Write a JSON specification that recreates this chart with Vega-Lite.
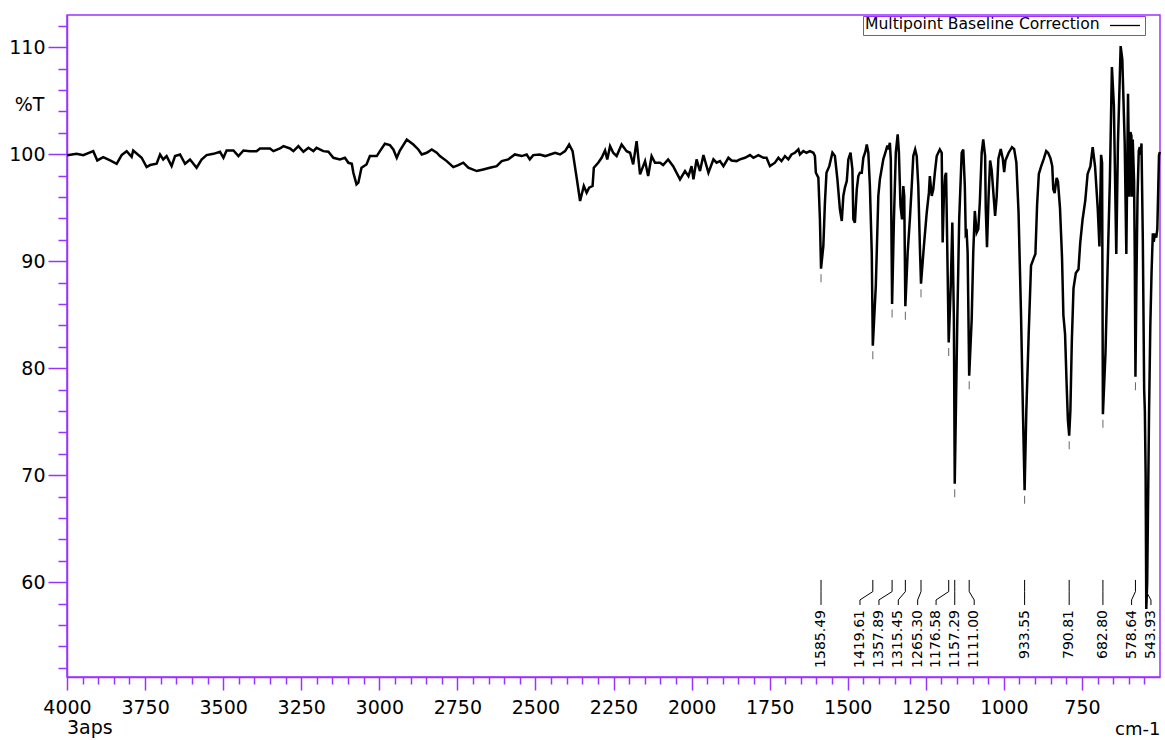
{
  "$schema": "https://vega.github.io/schema/vega-lite/v6.json",
  "width": 1093,
  "height": 662,
  "autosize": {"type": "none"},
  "padding": {"left": 67, "top": 15, "right": 5, "bottom": 63},
  "background": "white",
  "view": {"stroke": "#9933ff", "strokeWidth": 1.5},
  "title": {"text": "3aps", "orient": "bottom", "anchor": "start", "frame": "group", "fontSize": 19, "fontWeight": "normal", "font": "DejaVu Sans", "color": "black", "offset": -19},
  "config": {
    "font": "DejaVu Sans",
    "axisX": {
      "format": "d",
      "labelExpr": "datum.value % 250 === 0 ? datum.label : ''",
      "labelOverlap": false, "labelFlush": false,
      "labelFontSize": 19, "labelFont": "DejaVu Sans", "labelColor": "black", "labelPadding": 8,
      "domainColor": "#9933ff", "domainWidth": 1.5, "tickColor": "#9933ff", "tickWidth": 1.5,
      "grid": false,
      "titleFontSize": 18, "titleFont": "DejaVu Sans", "titleFontWeight": "normal", "titleColor": "black",
      "titleX": 1093, "titleY": 57, "titleAlign": "right", "titleBaseline": "alphabetic", "titleAngle": 0
    },
    "axisY": {
      "labelExpr": "datum.value % 10 === 0 ? datum.label : ''",
      "labelOverlap": false, "labelFlush": false,
      "labelFontSize": 19, "labelFont": "DejaVu Sans", "labelColor": "black", "labelPadding": 3,
      "labelBaseline": "middle",
      "domainColor": "#9933ff", "domainWidth": 1.5, "tickColor": "#9933ff", "tickWidth": 1.5,
      "grid": false,
      "titleFontSize": 19, "titleFont": "DejaVu Sans", "titleFontWeight": "normal", "titleColor": "black",
      "titleX": -38, "titleY": 89, "titleAlign": "center", "titleBaseline": "middle", "titleAngle": 0
    }
  },
  "datasets": {
    "spectrum": [
      {"w": 3999, "t": 99.9}, {"w": 3969, "t": 100.03}, {"w": 3948, "t": 99.91}, {"w": 3916, "t": 100.28}, {"w": 3903, "t": 99.41},
      {"w": 3884, "t": 99.72}, {"w": 3862, "t": 99.41}, {"w": 3841, "t": 99.1}, {"w": 3825, "t": 99.91}, {"w": 3809, "t": 100.28},
      {"w": 3793, "t": 99.75}, {"w": 3788, "t": 100.34}, {"w": 3761, "t": 99.66}, {"w": 3745, "t": 98.79}, {"w": 3734, "t": 98.98},
      {"w": 3713, "t": 99.1}, {"w": 3702, "t": 99.97}, {"w": 3692, "t": 99.5}, {"w": 3681, "t": 99.82}, {"w": 3665, "t": 98.88},
      {"w": 3654, "t": 99.82}, {"w": 3638, "t": 99.97}, {"w": 3622, "t": 99.1}, {"w": 3606, "t": 99.5}, {"w": 3585, "t": 98.73},
      {"w": 3569, "t": 99.5}, {"w": 3553, "t": 99.91}, {"w": 3531, "t": 100.03}, {"w": 3510, "t": 100.22}, {"w": 3499, "t": 99.66},
      {"w": 3489, "t": 100.34}, {"w": 3467, "t": 100.34}, {"w": 3451, "t": 99.82}, {"w": 3435, "t": 100.34}, {"w": 3414, "t": 100.28},
      {"w": 3393, "t": 100.28}, {"w": 3382, "t": 100.53}, {"w": 3350, "t": 100.53}, {"w": 3339, "t": 100.28}, {"w": 3318, "t": 100.53},
      {"w": 3307, "t": 100.75}, {"w": 3286, "t": 100.53}, {"w": 3275, "t": 100.28}, {"w": 3259, "t": 100.75}, {"w": 3243, "t": 100.22},
      {"w": 3227, "t": 100.59}, {"w": 3211, "t": 100.28}, {"w": 3201, "t": 100.59}, {"w": 3179, "t": 100.28}, {"w": 3163, "t": 100.22},
      {"w": 3147, "t": 99.66}, {"w": 3126, "t": 99.51}, {"w": 3110, "t": 99.66}, {"w": 3099, "t": 99.19}, {"w": 3088, "t": 99.1},
      {"w": 3083, "t": 98.26}, {"w": 3073, "t": 97.17}, {"w": 3067, "t": 97.33}, {"w": 3057, "t": 98.73}, {"w": 3041, "t": 99.04},
      {"w": 3030, "t": 99.82}, {"w": 3008, "t": 99.82}, {"w": 2998, "t": 100.28}, {"w": 2982, "t": 100.97}, {"w": 2966, "t": 100.84},
      {"w": 2955, "t": 100.44}, {"w": 2944, "t": 99.66}, {"w": 2934, "t": 100.34}, {"w": 2912, "t": 101.37}, {"w": 2891, "t": 100.9},
      {"w": 2875, "t": 100.44}, {"w": 2864, "t": 99.97}, {"w": 2848, "t": 100.13}, {"w": 2832, "t": 100.44}, {"w": 2816, "t": 100.13},
      {"w": 2806, "t": 99.82}, {"w": 2784, "t": 99.35}, {"w": 2763, "t": 98.79}, {"w": 2747, "t": 98.98}, {"w": 2731, "t": 99.2},
      {"w": 2715, "t": 98.73}, {"w": 2688, "t": 98.42}, {"w": 2667, "t": 98.57}, {"w": 2646, "t": 98.73}, {"w": 2624, "t": 98.88},
      {"w": 2608, "t": 99.35}, {"w": 2587, "t": 99.51}, {"w": 2566, "t": 99.97}, {"w": 2544, "t": 99.82}, {"w": 2528, "t": 99.97},
      {"w": 2518, "t": 99.51}, {"w": 2507, "t": 99.91}, {"w": 2486, "t": 99.97}, {"w": 2469, "t": 99.82}, {"w": 2453, "t": 99.97},
      {"w": 2437, "t": 100.13}, {"w": 2421, "t": 99.97}, {"w": 2405, "t": 100.28}, {"w": 2392, "t": 100.9}, {"w": 2381, "t": 100.28},
      {"w": 2368, "t": 97.8}, {"w": 2357, "t": 95.62}, {"w": 2345, "t": 97.02}, {"w": 2336, "t": 96.4}, {"w": 2328, "t": 96.87},
      {"w": 2317, "t": 97.02}, {"w": 2313, "t": 98.73}, {"w": 2299, "t": 99.2}, {"w": 2288, "t": 99.66}, {"w": 2277, "t": 100.34},
      {"w": 2270, "t": 99.51}, {"w": 2261, "t": 100.75}, {"w": 2251, "t": 100.13}, {"w": 2240, "t": 99.82}, {"w": 2224, "t": 100.9},
      {"w": 2208, "t": 100.28}, {"w": 2197, "t": 100.13}, {"w": 2187, "t": 99.04}, {"w": 2176, "t": 101.21}, {"w": 2165, "t": 98.11},
      {"w": 2149, "t": 99.35}, {"w": 2139, "t": 97.95}, {"w": 2128, "t": 99.82}, {"w": 2117, "t": 99.2}, {"w": 2101, "t": 99.2},
      {"w": 2091, "t": 98.98}, {"w": 2075, "t": 99.51}, {"w": 2059, "t": 98.88}, {"w": 2037, "t": 97.64}, {"w": 2021, "t": 98.42},
      {"w": 2010, "t": 97.95}, {"w": 2000, "t": 98.88}, {"w": 1994, "t": 97.64}, {"w": 1984, "t": 99.51}, {"w": 1973, "t": 98.42},
      {"w": 1962, "t": 99.91}, {"w": 1946, "t": 98.26}, {"w": 1930, "t": 99.51}, {"w": 1920, "t": 99.2}, {"w": 1909, "t": 99.35},
      {"w": 1898, "t": 98.88}, {"w": 1882, "t": 99.66}, {"w": 1872, "t": 99.41}, {"w": 1856, "t": 99.35}, {"w": 1845, "t": 99.51},
      {"w": 1829, "t": 99.66}, {"w": 1813, "t": 99.91}, {"w": 1802, "t": 99.66}, {"w": 1786, "t": 99.91}, {"w": 1770, "t": 99.66},
      {"w": 1760, "t": 99.66}, {"w": 1749, "t": 98.88}, {"w": 1733, "t": 99.2}, {"w": 1722, "t": 99.66}, {"w": 1712, "t": 99.35},
      {"w": 1701, "t": 99.82}, {"w": 1690, "t": 99.51}, {"w": 1680, "t": 99.97}, {"w": 1669, "t": 100.13}, {"w": 1658, "t": 100.44},
      {"w": 1653, "t": 99.97}, {"w": 1642, "t": 100.28}, {"w": 1632, "t": 100.13}, {"w": 1621, "t": 100.28}, {"w": 1610, "t": 100.13},
      {"w": 1605, "t": 99.82}, {"w": 1602, "t": 98.26}, {"w": 1594, "t": 97.8}, {"w": 1589, "t": 93.91}, {"w": 1585.49, "t": 89.3},
      {"w": 1578, "t": 91.43}, {"w": 1573, "t": 95.47}, {"w": 1568, "t": 98.26}, {"w": 1559, "t": 98.88}, {"w": 1549, "t": 100.13},
      {"w": 1541, "t": 99.82}, {"w": 1533, "t": 97.64}, {"w": 1525, "t": 94.85}, {"w": 1519, "t": 93.76}, {"w": 1514, "t": 96.09},
      {"w": 1509, "t": 96.87}, {"w": 1503, "t": 97.49}, {"w": 1498, "t": 99.51}, {"w": 1491, "t": 100.13}, {"w": 1485, "t": 98.57},
      {"w": 1482, "t": 93.91}, {"w": 1477, "t": 93.6}, {"w": 1471, "t": 96.71}, {"w": 1466, "t": 97.95}, {"w": 1461, "t": 98.26},
      {"w": 1455, "t": 98.26}, {"w": 1450, "t": 99.66}, {"w": 1443, "t": 100.28}, {"w": 1439, "t": 100.9}, {"w": 1434, "t": 100.13},
      {"w": 1429, "t": 97.02}, {"w": 1423, "t": 90.81}, {"w": 1419.61, "t": 82.1}, {"w": 1410, "t": 87.7}, {"w": 1402, "t": 96.09},
      {"w": 1397, "t": 97.64}, {"w": 1386, "t": 99.51}, {"w": 1378, "t": 100.28}, {"w": 1373, "t": 100.81}, {"w": 1370, "t": 100.44},
      {"w": 1365, "t": 101.06}, {"w": 1362, "t": 99.51}, {"w": 1357.89, "t": 86.0}, {"w": 1352, "t": 93.91}, {"w": 1346, "t": 100.13},
      {"w": 1340, "t": 101.84}, {"w": 1336, "t": 100.13}, {"w": 1331, "t": 95.16}, {"w": 1326, "t": 93.91}, {"w": 1322, "t": 97.02},
      {"w": 1319, "t": 96.09}, {"w": 1315.45, "t": 85.8}, {"w": 1308, "t": 90.81}, {"w": 1301, "t": 93.91}, {"w": 1295, "t": 97.02},
      {"w": 1290, "t": 99.82}, {"w": 1284, "t": 100.44}, {"w": 1279, "t": 99.82}, {"w": 1274, "t": 97.02}, {"w": 1269, "t": 91.43},
      {"w": 1265.3, "t": 87.9}, {"w": 1256, "t": 91.43}, {"w": 1247, "t": 94.54}, {"w": 1240, "t": 96.4}, {"w": 1237, "t": 97.95},
      {"w": 1231, "t": 96.09}, {"w": 1226, "t": 96.71}, {"w": 1221, "t": 98.26}, {"w": 1215, "t": 99.82}, {"w": 1205, "t": 100.44},
      {"w": 1199, "t": 100.13}, {"w": 1196, "t": 91.74}, {"w": 1192, "t": 96.09}, {"w": 1188, "t": 97.95}, {"w": 1185, "t": 98.26},
      {"w": 1181, "t": 90.81}, {"w": 1176.58, "t": 82.4}, {"w": 1170, "t": 87.7}, {"w": 1165, "t": 93.6}, {"w": 1160, "t": 84.59},
      {"w": 1157.29, "t": 69.2}, {"w": 1149, "t": 84.59}, {"w": 1143, "t": 93.91}, {"w": 1135, "t": 100.13}, {"w": 1130, "t": 100.44},
      {"w": 1125, "t": 97.02}, {"w": 1122, "t": 92.52}, {"w": 1119, "t": 92.67}, {"w": 1116, "t": 90.81}, {"w": 1111.0, "t": 79.3},
      {"w": 1103, "t": 84.59}, {"w": 1098, "t": 90.81}, {"w": 1093, "t": 94.69}, {"w": 1087, "t": 92.67}, {"w": 1082, "t": 92.98},
      {"w": 1077, "t": 95.47}, {"w": 1071, "t": 100.13}, {"w": 1066, "t": 101.37}, {"w": 1060, "t": 99.82}, {"w": 1058, "t": 95.0},
      {"w": 1054, "t": 91.3}, {"w": 1049, "t": 96.0}, {"w": 1044, "t": 99.4}, {"w": 1039, "t": 98.51}, {"w": 1028, "t": 94.23},
      {"w": 1023, "t": 96.01}, {"w": 1017.5, "t": 99.58}, {"w": 1010, "t": 100.47}, {"w": 1003.5, "t": 99.58}, {"w": 999, "t": 98.33},
      {"w": 995, "t": 99.4}, {"w": 985, "t": 100.11}, {"w": 974, "t": 100.65}, {"w": 967, "t": 100.47}, {"w": 960, "t": 99.22},
      {"w": 953, "t": 94.58}, {"w": 945, "t": 84.96}, {"w": 939, "t": 76.05}, {"w": 933.55, "t": 68.6}, {"w": 928, "t": 76.05},
      {"w": 920.5, "t": 83.18}, {"w": 913, "t": 89.6}, {"w": 904, "t": 90.31}, {"w": 899, "t": 90.67}, {"w": 893.5, "t": 95.3},
      {"w": 888, "t": 98.15}, {"w": 880.6, "t": 98.86}, {"w": 872, "t": 99.58}, {"w": 864.4, "t": 100.29}, {"w": 858, "t": 100.11},
      {"w": 850.4, "t": 99.58}, {"w": 845, "t": 98.86}, {"w": 841.7, "t": 96.72}, {"w": 837.4, "t": 96.37}, {"w": 831, "t": 97.79},
      {"w": 826.7, "t": 97.44}, {"w": 820.2, "t": 94.94}, {"w": 813.7, "t": 90.31}, {"w": 809.4, "t": 84.96}, {"w": 804, "t": 83.18},
      {"w": 799, "t": 78.5}, {"w": 795, "t": 75.2}, {"w": 790.81, "t": 73.7}, {"w": 787, "t": 76.0}, {"w": 782.4, "t": 82.47},
      {"w": 777, "t": 87.46}, {"w": 769.5, "t": 88.89}, {"w": 761, "t": 89.24}, {"w": 755.4, "t": 91.74}, {"w": 748, "t": 93.87},
      {"w": 739.3, "t": 95.66}, {"w": 731.8, "t": 98.15}, {"w": 723, "t": 98.86}, {"w": 715.6, "t": 100.65}, {"w": 708, "t": 98.86},
      {"w": 699.4, "t": 94.94}, {"w": 694, "t": 91.37}, {"w": 688.6, "t": 99.93}, {"w": 685.5, "t": 99.22}, {"w": 682.8, "t": 75.7},
      {"w": 674.6, "t": 81.4}, {"w": 667, "t": 90.31}, {"w": 660.6, "t": 97.44}, {"w": 654, "t": 108.13}, {"w": 647.7, "t": 104.57},
      {"w": 640, "t": 90.67}, {"w": 634.7, "t": 101.0}, {"w": 626, "t": 110.09}, {"w": 620.7, "t": 108.85}, {"w": 613, "t": 101.0},
      {"w": 607.8, "t": 90.67}, {"w": 602.4, "t": 105.64}, {"w": 598, "t": 96.01}, {"w": 594.8, "t": 102.07}, {"w": 591.6, "t": 101.72},
      {"w": 589.5, "t": 96.01}, {"w": 587.3, "t": 101.36}, {"w": 583, "t": 97.44}, {"w": 580.8, "t": 90.31}, {"w": 578.64, "t": 79.2},
      {"w": 575.5, "t": 88.0}, {"w": 572, "t": 96.0}, {"w": 568, "t": 100.29}, {"w": 564.6, "t": 100.65}, {"w": 561.4, "t": 99.93},
      {"w": 559.3, "t": 101.0}, {"w": 555, "t": 92.0}, {"w": 550.7, "t": 78.0}, {"w": 548.5, "t": 76.0}, {"w": 546, "t": 70.0},
      {"w": 543.93, "t": 57.5}, {"w": 541, "t": 60.0}, {"w": 538, "t": 68.0}, {"w": 535, "t": 76.0}, {"w": 531, "t": 84.0},
      {"w": 527, "t": 89.0}, {"w": 523, "t": 92.6}, {"w": 520, "t": 91.8}, {"w": 516, "t": 92.6}, {"w": 512, "t": 92.2},
      {"w": 508.6, "t": 93.0}, {"w": 503.2, "t": 99.9}, {"w": 500.5, "t": 100.2}
    ],
    "peaks": [
      {"w": 1585.49, "t": 89.3, "lx": 1585.49, "label": "1585.49"},
      {"w": 1419.61, "t": 82.1, "lx": 1460.8, "label": "1419.61"},
      {"w": 1357.89, "t": 86.0, "lx": 1400, "label": "1357.89"},
      {"w": 1315.45, "t": 85.8, "lx": 1338, "label": "1315.45"},
      {"w": 1265.3, "t": 87.9, "lx": 1276, "label": "1265.30"},
      {"w": 1176.58, "t": 82.4, "lx": 1217, "label": "1176.58"},
      {"w": 1157.29, "t": 69.2, "lx": 1157.29, "label": "1157.29"},
      {"w": 1111.0, "t": 79.3, "lx": 1095, "label": "1111.00"},
      {"w": 933.55, "t": 68.6, "lx": 933.55, "label": "933.55"},
      {"w": 790.81, "t": 73.7, "lx": 790.81, "label": "790.81"},
      {"w": 682.8, "t": 75.7, "lx": 682.8, "label": "682.80"},
      {"w": 578.64, "t": 79.2, "lx": 591, "label": "578.64"},
      {"w": 543.93, "t": 57.5, "lx": 529, "label": "543.93"}
    ]
  },
  "layer": [
    {
      "data": {"name": "spectrum"},
      "mark": {"type": "line", "strokeWidth": 2.5, "interpolate": "linear"},
      "encoding": {
        "x": {"field": "w", "type": "quantitative", "title": "cm-1",
          "scale": {"domain": [500, 4000], "reverse": true, "nice": false, "zero": false},
          "axis": {"values": [550,600,650,700,750,800,850,900,950,1000,1050,1100,1150,1200,1250,1300,1350,1400,1450,1500,1550,1600,1650,1700,1750,1800,1850,1900,1950,2000,2050,2100,2150,2200,2250,2300,2350,2400,2450,2500,2550,2600,2650,2700,2750,2800,2850,2900,2950,3000,3050,3100,3150,3200,3250,3300,3350,3400,3450,3500,3550,3600,3650,3700,3750,3800,3850,3900,3950,4000], "tickSize": {"condition": {"test": "datum.value % 250 === 0", "value": 13}, "value": 7}}
        },
        "y": {"field": "t", "type": "quantitative", "title": "%T",
          "scale": {"domain": [51.15, 113], "nice": false, "zero": false},
          "axis": {"values": [52,54,56,58,60,62,64,66,68,70,72,74,76,78,80,82,84,86,88,90,92,94,96,98,100,102,104,106,108,110,112], "tickSize": {"condition": {"test": "datum.value % 10 === 0", "value": 19}, "value": 9}}
        },
        "color": {"datum": "Multipoint Baseline Correction", "type": "nominal",
          "scale": {"range": ["#000000"]},
          "legend": {
            "orient": "none", "legendX": 796, "legendY": 1,
            "title": "Multipoint Baseline Correction", "titleOrient": "left", "titleAnchor": "middle", "titleLimit": 400,
            "titleFontSize": 15.6, "titleFont": "DejaVu Sans", "titleFontWeight": "normal", "titleColor": "black",
            "titlePadding": 14, "titleBaseline": "middle",
            "labelExpr": "''", "labelFontSize": 1, "labelOffset": 0,
            "symbolType": "M-1.5,-0.35H1.5", "symbolSize": 400, "symbolStrokeWidth": 1.3, "symbolStrokeColor": "black", "symbolFillColor": "transparent",
            "strokeColor": "#9933ff", "fillColor": "white", "padding": 2
          }
        }
      }
    },
    {
      "data": {"name": "peaks"},
      "mark": {"type": "tick", "orient": "vertical", "size": 8, "thickness": 1, "yOffset": 9.5, "color": "#222222"},
      "encoding": {
        "x": {"field": "w", "type": "quantitative", "title": "cm-1",
          "scale": {"domain": [500, 4000], "reverse": true, "nice": false, "zero": false},
          "axis": {"values": [550,600,650,700,750,800,850,900,950,1000,1050,1100,1150,1200,1250,1300,1350,1400,1450,1500,1550,1600,1650,1700,1750,1800,1850,1900,1950,2000,2050,2100,2150,2200,2250,2300,2350,2400,2450,2500,2550,2600,2650,2700,2750,2800,2850,2900,2950,3000,3050,3100,3150,3200,3250,3300,3350,3400,3450,3500,3550,3600,3650,3700,3750,3800,3850,3900,3950,4000], "tickSize": {"condition": {"test": "datum.value % 250 === 0", "value": 13}, "value": 7}}
        },
        "y": {"field": "t", "type": "quantitative", "title": "%T",
          "scale": {"domain": [51.15, 113], "nice": false, "zero": false},
          "axis": {"values": [52,54,56,58,60,62,64,66,68,70,72,74,76,78,80,82,84,86,88,90,92,94,96,98,100,102,104,106,108,110,112], "tickSize": {"condition": {"test": "datum.value % 10 === 0", "value": 19}, "value": 9}}
        }
      }
    },
    {
      "data": {"name": "peaks"},
      "mark": {"type": "rule", "strokeWidth": 1, "color": "black"},
      "encoding": {
        "x": {"field": "w", "type": "quantitative", "title": "cm-1",
          "scale": {"domain": [500, 4000], "reverse": true, "nice": false, "zero": false},
          "axis": {"values": [550,600,650,700,750,800,850,900,950,1000,1050,1100,1150,1200,1250,1300,1350,1400,1450,1500,1550,1600,1650,1700,1750,1800,1850,1900,1950,2000,2050,2100,2150,2200,2250,2300,2350,2400,2450,2500,2550,2600,2650,2700,2750,2800,2850,2900,2950,3000,3050,3100,3150,3200,3250,3300,3350,3400,3450,3500,3550,3600,3650,3700,3750,3800,3850,3900,3950,4000], "tickSize": {"condition": {"test": "datum.value % 250 === 0", "value": 13}, "value": 7}}
        },
        "y": {"datum": 60.22, "type": "quantitative", "title": "%T",
          "scale": {"domain": [51.15, 113], "nice": false, "zero": false},
          "axis": {"values": [52,54,56,58,60,62,64,66,68,70,72,74,76,78,80,82,84,86,88,90,92,94,96,98,100,102,104,106,108,110,112], "tickSize": {"condition": {"test": "datum.value % 10 === 0", "value": 19}, "value": 9}}
        },
        "y2": {"datum": 59.13}
      }
    },
    {
      "data": {"name": "peaks"},
      "mark": {"type": "rule", "strokeWidth": 1, "color": "black"},
      "encoding": {
        "x": {"field": "w", "type": "quantitative", "title": "cm-1",
          "scale": {"domain": [500, 4000], "reverse": true, "nice": false, "zero": false},
          "axis": {"values": [550,600,650,700,750,800,850,900,950,1000,1050,1100,1150,1200,1250,1300,1350,1400,1450,1500,1550,1600,1650,1700,1750,1800,1850,1900,1950,2000,2050,2100,2150,2200,2250,2300,2350,2400,2450,2500,2550,2600,2650,2700,2750,2800,2850,2900,2950,3000,3050,3100,3150,3200,3250,3300,3350,3400,3450,3500,3550,3600,3650,3700,3750,3800,3850,3900,3950,4000], "tickSize": {"condition": {"test": "datum.value % 250 === 0", "value": 13}, "value": 7}}
        },
        "x2": {"field": "lx"},
        "y": {"datum": 59.13, "type": "quantitative", "title": "%T",
          "scale": {"domain": [51.15, 113], "nice": false, "zero": false},
          "axis": {"values": [52,54,56,58,60,62,64,66,68,70,72,74,76,78,80,82,84,86,88,90,92,94,96,98,100,102,104,106,108,110,112], "tickSize": {"condition": {"test": "datum.value % 10 === 0", "value": 19}, "value": 9}}
        },
        "y2": {"datum": 58.35}
      }
    },
    {
      "data": {"name": "peaks"},
      "mark": {"type": "rule", "strokeWidth": 1, "color": "black"},
      "encoding": {
        "x": {"field": "lx", "type": "quantitative", "title": "cm-1",
          "scale": {"domain": [500, 4000], "reverse": true, "nice": false, "zero": false},
          "axis": {"values": [550,600,650,700,750,800,850,900,950,1000,1050,1100,1150,1200,1250,1300,1350,1400,1450,1500,1550,1600,1650,1700,1750,1800,1850,1900,1950,2000,2050,2100,2150,2200,2250,2300,2350,2400,2450,2500,2550,2600,2650,2700,2750,2800,2850,2900,2950,3000,3050,3100,3150,3200,3250,3300,3350,3400,3450,3500,3550,3600,3650,3700,3750,3800,3850,3900,3950,4000], "tickSize": {"condition": {"test": "datum.value % 250 === 0", "value": 13}, "value": 7}}
        },
        "y": {"datum": 58.35, "type": "quantitative", "title": "%T",
          "scale": {"domain": [51.15, 113], "nice": false, "zero": false},
          "axis": {"values": [52,54,56,58,60,62,64,66,68,70,72,74,76,78,80,82,84,86,88,90,92,94,96,98,100,102,104,106,108,110,112], "tickSize": {"condition": {"test": "datum.value % 10 === 0", "value": 19}, "value": 9}}
        },
        "y2": {"datum": 57.88}
      }
    },
    {
      "data": {"name": "peaks"},
      "mark": {"type": "text", "angle": 270, "align": "right", "baseline": "middle", "fontSize": 14, "font": "DejaVu Sans", "color": "black"},
      "encoding": {
        "x": {"field": "lx", "type": "quantitative", "title": "cm-1",
          "scale": {"domain": [500, 4000], "reverse": true, "nice": false, "zero": false},
          "axis": {"values": [550,600,650,700,750,800,850,900,950,1000,1050,1100,1150,1200,1250,1300,1350,1400,1450,1500,1550,1600,1650,1700,1750,1800,1850,1900,1950,2000,2050,2100,2150,2200,2250,2300,2350,2400,2450,2500,2550,2600,2650,2700,2750,2800,2850,2900,2950,3000,3050,3100,3150,3200,3250,3300,3350,3400,3450,3500,3550,3600,3650,3700,3750,3800,3850,3900,3950,4000], "tickSize": {"condition": {"test": "datum.value % 250 === 0", "value": 13}, "value": 7}}
        },
        "y": {"datum": 57.41, "type": "quantitative", "title": "%T",
          "scale": {"domain": [51.15, 113], "nice": false, "zero": false},
          "axis": {"values": [52,54,56,58,60,62,64,66,68,70,72,74,76,78,80,82,84,86,88,90,92,94,96,98,100,102,104,106,108,110,112], "tickSize": {"condition": {"test": "datum.value % 10 === 0", "value": 19}, "value": 9}}
        },
        "text": {"field": "label"}
      }
    }
  ]
}
